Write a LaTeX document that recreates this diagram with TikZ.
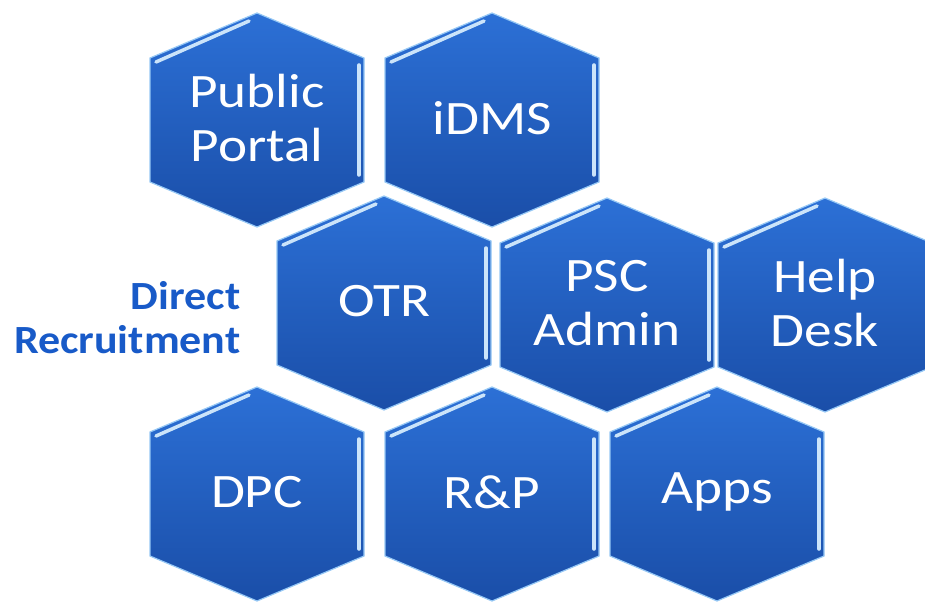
\documentclass[tikz,border=0pt]{standalone}
\usepackage{fontspec}
\setmainfont{Carlito}
\newfontfamily\hexfont[FakeStretch=1.15]{Carlito}
\newfontfamily\labelfont[FakeStretch=1.1]{Carlito}
\definecolor{hextop}{RGB}{44,112,214}
\definecolor{hexbot}{RGB}{26,78,168}
\definecolor{hexedge}{RGB}{150,200,245}
\definecolor{labelblue}{RGB}{24,90,200}

\tikzset{
  hexbody/.style={top color=hextop, bottom color=hexbot, draw=hexedge, line width=1.2pt},
  hexshine/.style={draw=hexedge!50!white, line width=3.5pt, line cap=round},
  hextext/.style={text=white, align=center, font=\hexfont\fontsize{48}{54}\selectfont},
}

\begin{document}
\begin{tikzpicture}[x=1pt,y=-1pt]
\useasboundingbox (0,0) rectangle (925,604);
\clip (0,0) rectangle (925,604);

% hexagons: centre x / centre y / name / text
\foreach \cx/\cy/\nm/\txt in {257/120/portal/{Public\\Portal}, 492/120/idms/iDMS,
    384/303/otr/OTR, 607/305/admin/{PSC\\Admin}, 825/305/help/{Help\\Desk},
    257/494/dpc/DPC, 492/494/rp/{R\&P}, 717/494/apps/Apps}{
  \draw [hexbody] (\cx,\cy-107) -- (\cx+107,\cy-62) -- (\cx+107,\cy+62)
    -- (\cx,\cy+107) -- (\cx-107,\cy+62) -- (\cx-107,\cy-62) -- cycle;
  \draw [hexshine] (\cx-101,\cy-58) -- (\cx-8,\cy-99);
  \draw [hexshine] (\cx+102,\cy-55) -- (\cx+102,\cy+55);
  \node [hextext] (\nm) at (\cx,\cy-2) {\txt};
}

\node [text=labelblue, align=right, anchor=east, font=\labelfont\bfseries\fontsize{40}{44}\selectfont] (recruit) at (244,318) {Direct\\Recruitment};
\end{tikzpicture}
\end{document}
